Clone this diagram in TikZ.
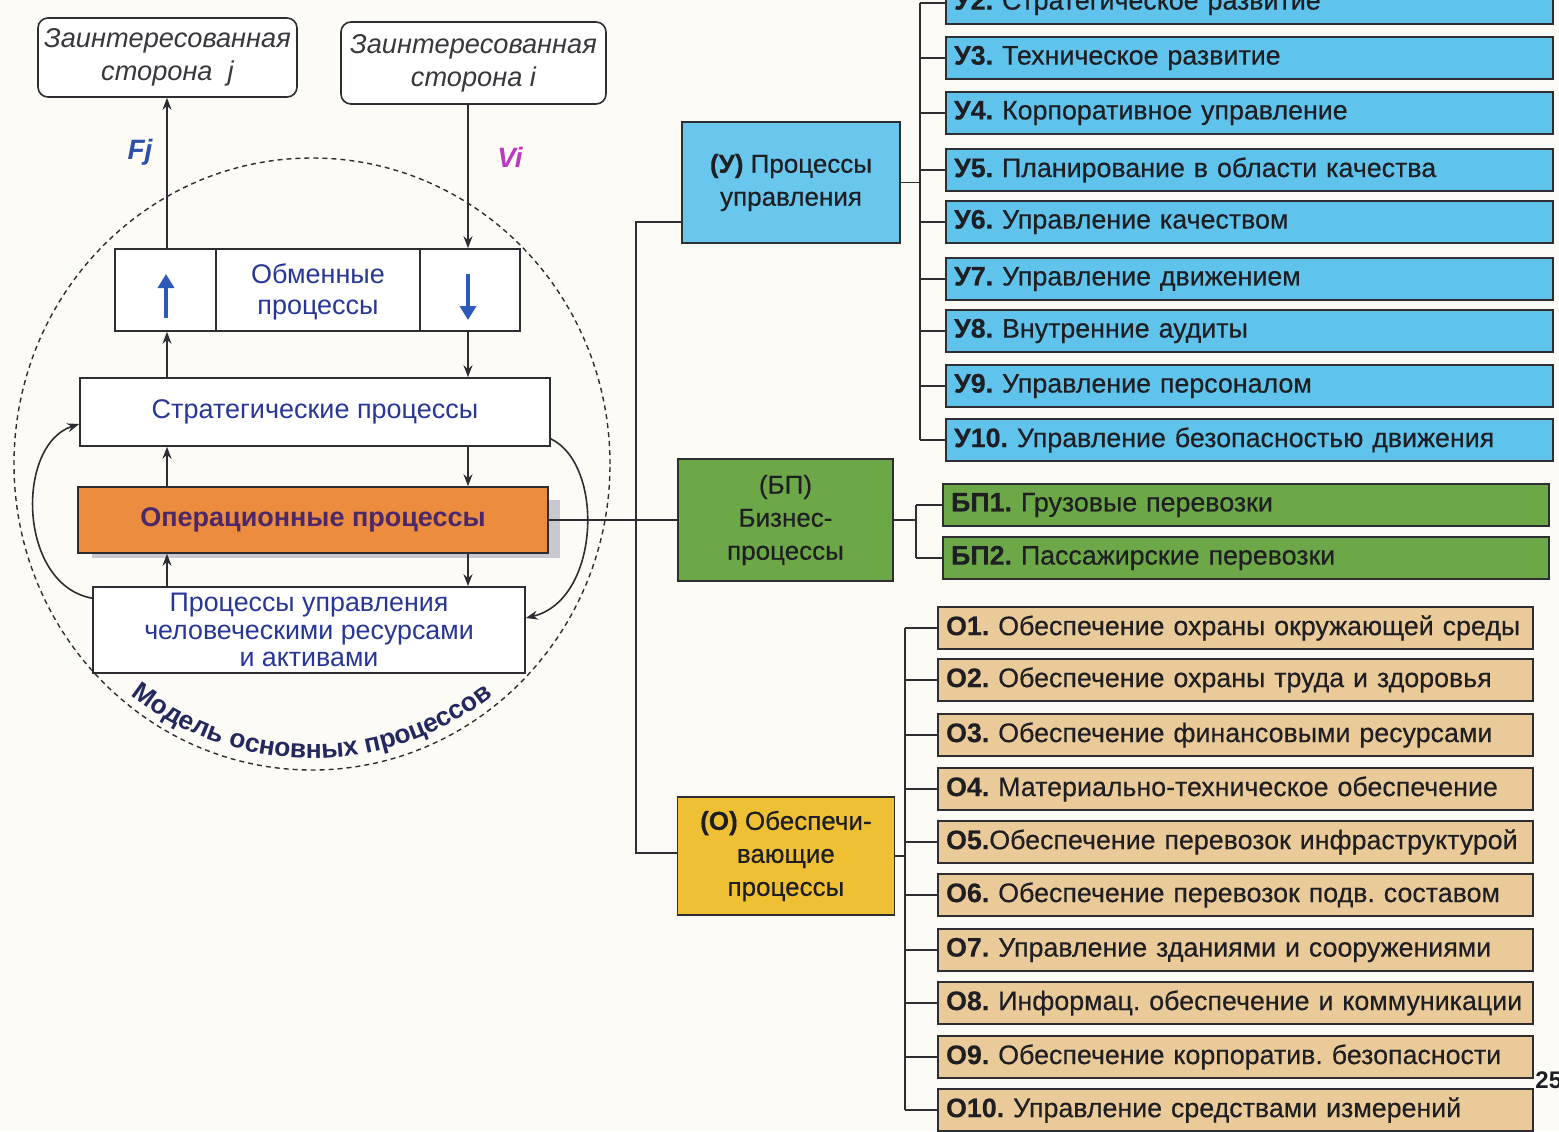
\documentclass[tikz,border=0pt]{standalone}
\usepackage{fontspec}
\setmainfont{Liberation Sans}
\newfontfamily\itemfont{Liberation Sans}[FakeBold=0.4]
\usetikzlibrary{arrows.meta,decorations.text,calc}
\definecolor{bg}{RGB}{252,251,246}
\definecolor{lineC}{RGB}{45,45,50}
\definecolor{txtblue}{RGB}{40,55,150}
\definecolor{stakeC}{RGB}{55,55,60}
\definecolor{fjC}{RGB}{45,80,170}
\definecolor{viC}{RGB}{185,60,190}
\definecolor{arrblue}{RGB}{45,90,185}
\definecolor{opfill}{RGB}{236,140,62}
\definecolor{optxt}{RGB}{75,40,105}
\definecolor{shadowC}{RGB}{200,200,210}
\definecolor{ublue}{RGB}{95,195,236}
\definecolor{uboxC}{RGB}{105,198,236}
\definecolor{bpgreen}{RGB}{108,168,72}
\definecolor{otan}{RGB}{234,202,152}
\definecolor{ogold}{RGB}{240,192,52}
\definecolor{itemtxt}{RGB}{30,30,35}
\definecolor{navy}{RGB}{35,40,95}
\frenchspacing
\begin{document}
\begin{tikzpicture}[x=0.5pt,y=-0.5pt,
  lbox/.style={draw=lineC, line width=0.8pt, fill=white, text=txtblue, align=center, inner sep=0pt,
    font=\fontsize{13.5}{15}\selectfont},
  stake/.style={draw=lineC, line width=0.8pt, rounded corners=5pt, fill=white, align=center,
    font=\itshape\fontsize{13.6}{16.5}\selectfont, text=stakeC, inner sep=0pt},
  arr/.style={draw=lineC, line width=0.8pt, -{Stealth[length=6pt,width=4.5pt]}},
  bigarr/.style={draw=arrblue, line width=2pt, -{Triangle[length=7pt,width=8pt]}},
  conn/.style={draw=lineC, line width=0.8pt},
  grp/.style={draw=lineC, line width=0.9pt, align=center, inner sep=0pt, text=itemtxt,
    font=\itemfont\fontsize{13}{16.5}\selectfont},
  item/.style={draw=lineC, line width=1.1pt, anchor=west, minimum height=21pt, align=left,
    inner xsep=4pt, inner ysep=0pt, font=\itemfont\fontsize{13.4}{15}\selectfont, text=itemtxt},
  uitem/.style={item, fill=ublue, text width=295.5pt},
  bitem/.style={item, fill=bpgreen, text width=295pt},
  oitem/.style={item, fill=otan, text width=289.5pt}
]
\useasboundingbox (0,0) rectangle (1559,1131);
\clip (0,0) rectangle (1559,1131);
\fill[bg] (0,0) rectangle (1559,1131);

% ---------- left model ----------
\draw[lineC, line width=0.7pt, dash pattern=on 2.5pt off 2pt] (312,464) ellipse [x radius=149pt, y radius=153pt];

\node[stake, minimum width=129.5pt, minimum height=39.5pt] (sj) at (167.5,57.5) {Заинтересованная\\сторона \ j};
\node[stake, minimum width=132.5pt, minimum height=41pt] (si) at (473.5,63) {Заинтересованная\\сторона i};

\coordinate (L) at (167,0);
\coordinate (R) at (468,0);

\node[lbox, minimum width=202.5pt, minimum height=41pt] (ex) at (317.5,290) {};
\coordinate (d1) at (216,290);
\coordinate (d2) at (420,290);
\draw[lineC, line width=0.8pt] (d1 |- ex.north) -- (d1 |- ex.south);
\draw[lineC, line width=0.8pt] (d2 |- ex.north) -- (d2 |- ex.south);
\node[text=txtblue, align=center, font=\fontsize{13.5}{15.5}\selectfont] (extxt) at (318,292) {Обменные\\процессы};
\draw[bigarr] (166,318) -- (166,274);
\draw[bigarr] (468,274) -- (468,320);

\node[lbox, minimum width=235pt, minimum height=34pt] (st) at (315,412) {Стратегические процессы};

\fill[shadowC] (92,500) rectangle (560,558);
\node[lbox, fill=opfill, text=optxt, font=\bfseries\fontsize{13.5}{15}\selectfont, minimum width=235pt, minimum height=33pt] (op) at (313,520) {Операционные процессы};

\node[lbox, minimum width=216pt, minimum height=43pt, font=\fontsize{13.4}{13.8}\selectfont] (hr) at (309,630) {Процессы управления\\человеческими ресурсами\\и активами};

\draw[arr] (ex.north -| L) -- (sj.south -| L);
\draw[arr] (si.south -| R) -- (ex.north -| R);
\draw[arr] (st.north -| L) -- (ex.south -| L);
\draw[arr] (ex.south -| R) -- (st.north -| R);
\draw[arr] (op.north -| L) -- (st.south -| L);
\draw[arr] (st.south -| R) -- (op.north -| R);
\draw[arr] (hr.north -| L) -- (op.south -| L);
\draw[arr] (op.south -| R) -- (hr.north -| R);

\draw[arr] ([yshift=-6pt]hr.north west) .. controls (18,585) and (15,445) .. ([yshift=-6pt]st.west);
\draw[arr] ([yshift=4pt]st.south east) .. controls (605,465) and (600,600) .. ([yshift=6pt]hr.east);

\node[font=\bfseries\itshape\fontsize{14}{16}\selectfont, text=fjC] (fj) at (140,152) {Fj};
\node[font=\bfseries\itshape\fontsize{14}{16}\selectfont, text=viC] (vi) at (510,157) {Vi};

\path[decorate, decoration={text along path, text align=center, text color=navy,
   text={|\bfseries\fontsize{13.2}{15}\selectfont|Модель основных процессов}}]
   (312,464) ++(205:147pt) arc[start angle=205, end angle=335, radius=147pt];

% ---------- group boxes ----------
\node[grp, fill=uboxC, minimum width=109pt, minimum height=60.5pt] (u) at (791,182.5) {\textbf{(У)} Процессы\\управления};
\node[grp, fill=bpgreen, minimum width=107.5pt, minimum height=61pt] (bp) at (785.5,520) {(БП)\\Бизнес-\\процессы};
\node[grp, fill=ogold, minimum width=108.5pt, minimum height=59pt] (o) at (676.5,856) [anchor=west] {\textbf{(О)} Обеспечи-\\вающие\\процессы};

\draw[conn] (op.east) -- (bp.west);
\coordinate (ub) at (636,222);
\coordinate (ob) at (636,853);
\draw[conn] (u.west |- ub) -- (ub) -- (ob) -- (o.west |- ob);

% ---------- У list ----------
\node[uitem] (u2) at (945,3) {\textbf{У2.} Стратегическое развитие};
\node[uitem] (u3) at (945,58) {\textbf{У3.} Техническое развитие};
\node[uitem] (u4) at (945,113) {\textbf{У4.} Корпоративное управление};
\node[uitem] (u5) at (945,170) {\textbf{У5.} Планирование в области качества};
\node[uitem] (u6) at (945,222) {\textbf{У6.} Управление качеством};
\node[uitem] (u7) at (945,279) {\textbf{У7.} Управление движением};
\node[uitem] (u8) at (945,331) {\textbf{У8.} Внутренние аудиты};
\node[uitem] (u9) at (945,386) {\textbf{У9.} Управление персоналом};
\node[uitem] (u10) at (945,440) {\textbf{У10.} Управление безопасностью движения};
\coordinate (ubus) at (920,0);
\draw[conn] (u.east) -- (u.east -| ubus);
\draw[conn] (ubus |- u2.west) -- (ubus |- u10.west);
\foreach \k in {2,...,10} \draw[conn] (ubus |- u\k.west) -- (u\k.west);

% ---------- БП list ----------
\node[bitem] (b1) at (942,505) {\textbf{БП1.} Грузовые перевозки};
\node[bitem] (b2) at (942,558) {\textbf{БП2.} Пассажирские перевозки};
\coordinate (bbus) at (916,0);
\draw[conn] (bp.east) -- (bp.east -| bbus);
\draw[conn] (bbus |- b1.west) -- (bbus |- b2.west);
\foreach \k in {1,2} \draw[conn] (bbus |- b\k.west) -- (b\k.west);

% ---------- О list ----------
\node[oitem] (o1) at (937,628) {\textbf{О1.} Обеспечение охраны окружающей среды};
\node[oitem] (o2) at (937,680) {\textbf{О2.} Обеспечение охраны труда и здоровья};
\node[oitem] (o3) at (937,735) {\textbf{О3.} Обеспечение финансовыми ресурсами};
\node[oitem] (o4) at (937,789) {\textbf{О4.} Материально-техническое обеспечение};
\node[oitem] (o5) at (937,842) {\textbf{О5.}Обеспечение перевозок инфраструктурой};
\node[oitem] (o6) at (937,895) {\textbf{О6.} Обеспечение перевозок подв. составом};
\node[oitem] (o7) at (937,950) {\textbf{О7.} Управление зданиями и сооружениями};
\node[oitem] (o8) at (937,1003) {\textbf{О8.} Информац. обеспечение и коммуникации};
\node[oitem] (o9) at (937,1057) {\textbf{О9.} Обеспечение корпоратив. безопасности};
\node[oitem] (o10) at (937,1110) {\textbf{О10.} Управление средствами измерений};
\coordinate (obus) at (905,0);
\draw[conn] (o.east) -- (o.east -| obus);
\draw[conn] (obus |- o1.west) -- (obus |- o10.west);
\foreach \k in {1,...,10} \draw[conn] (obus |- o\k.west) -- (o\k.west);

\node[anchor=west, inner sep=0pt, font=\bfseries\fontsize{12}{14}\selectfont, text=itemtxt] (pg) at (1535,1080) {25};
\end{tikzpicture}
\end{document}
